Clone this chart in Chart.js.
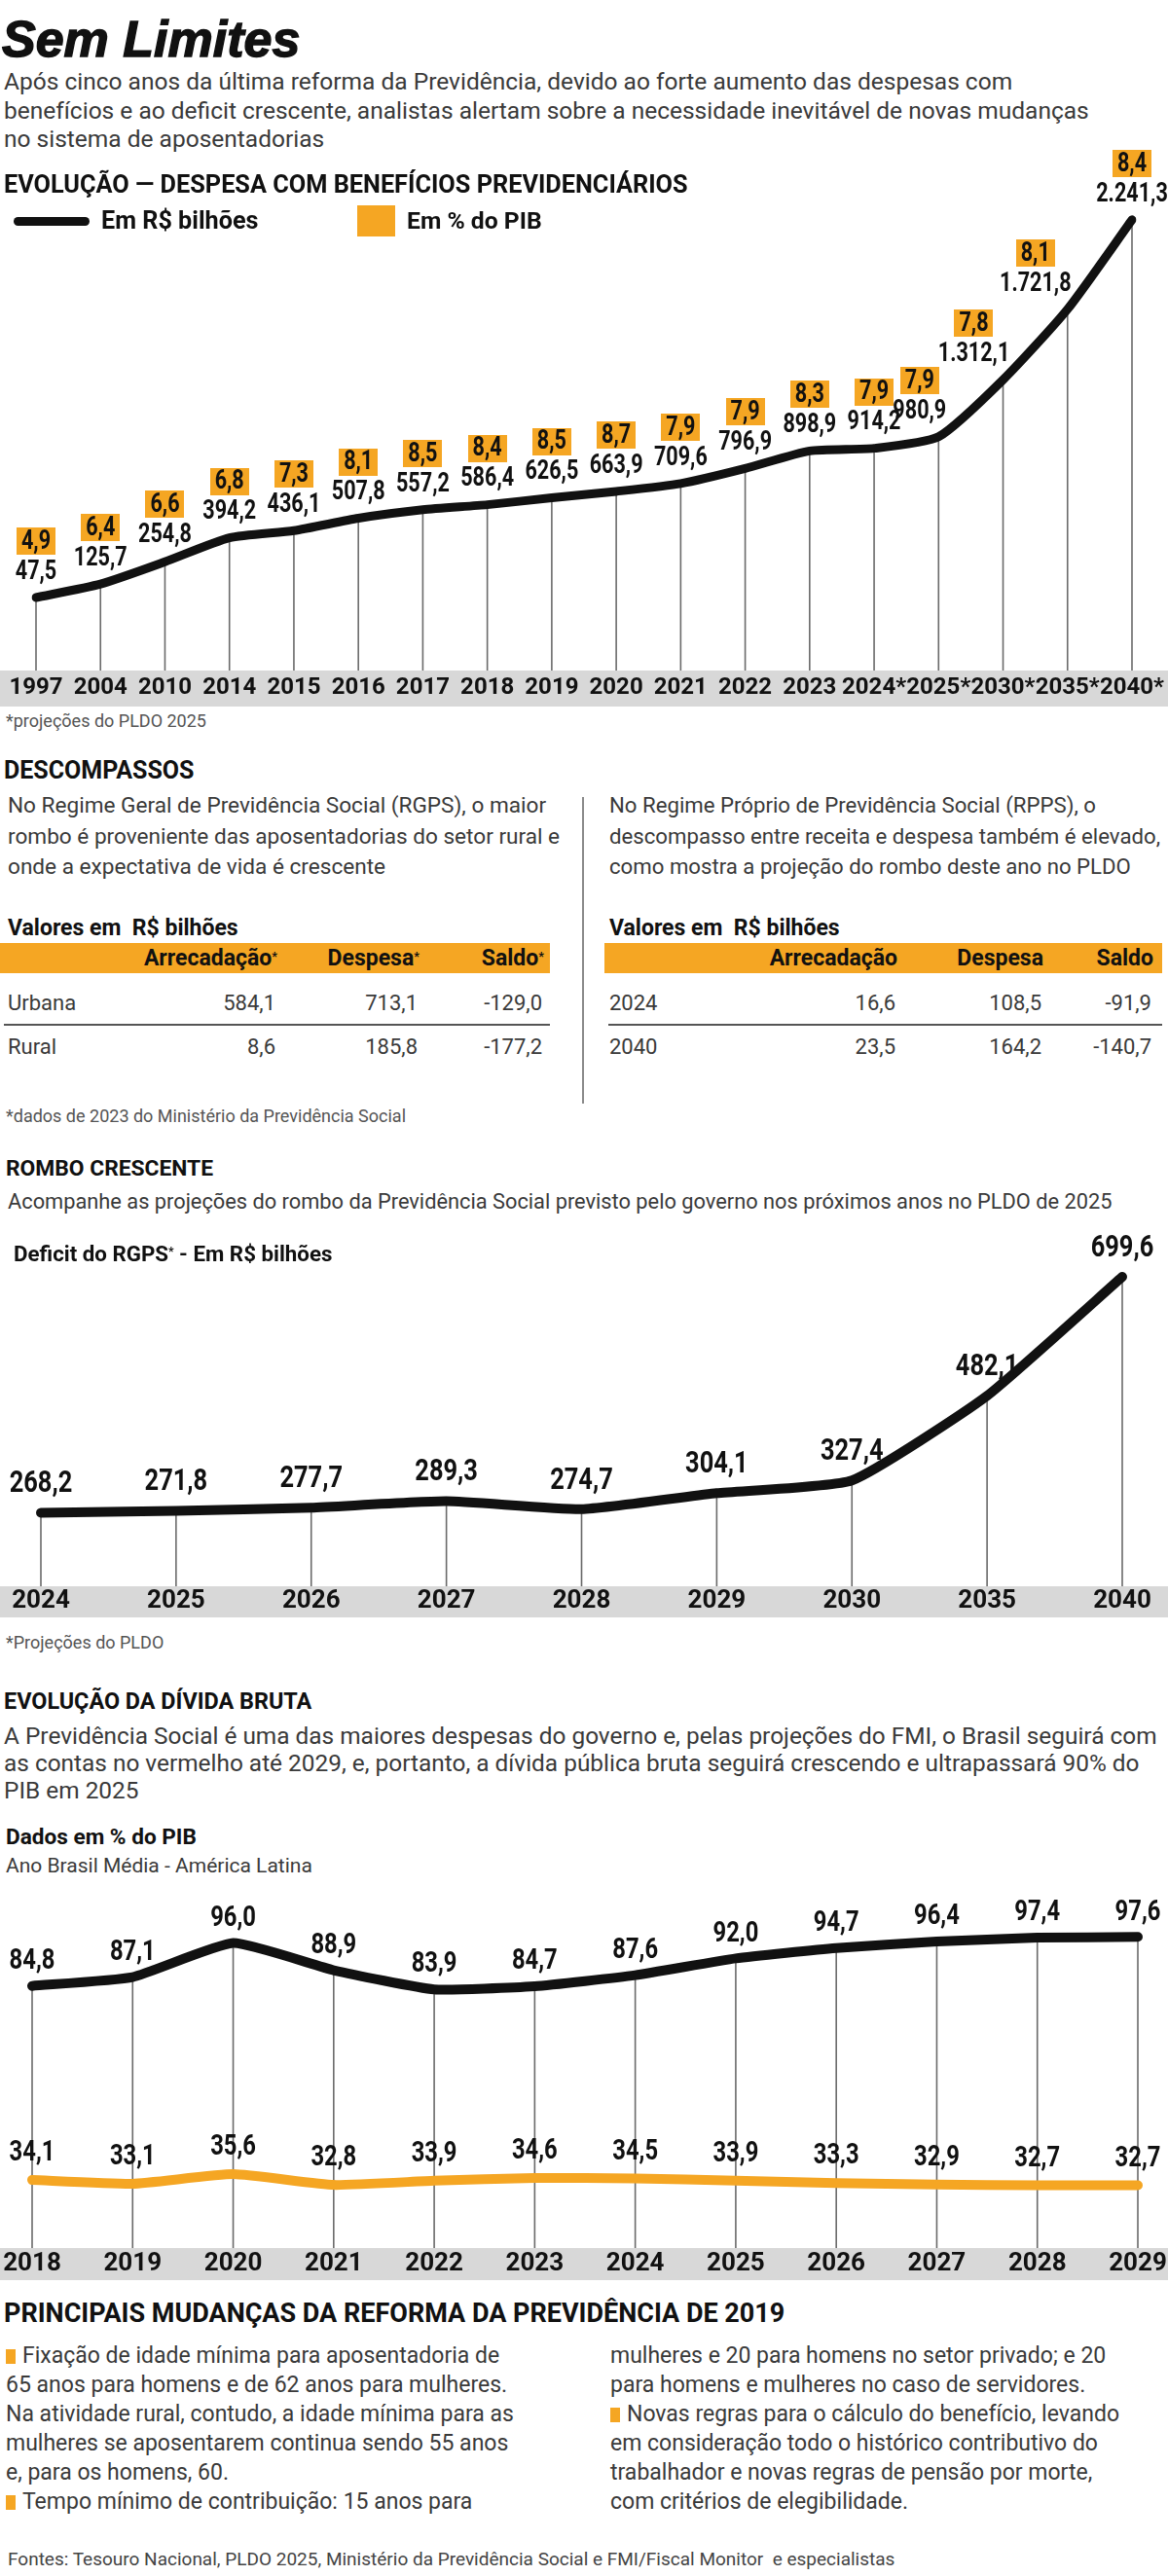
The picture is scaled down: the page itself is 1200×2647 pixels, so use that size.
<!DOCTYPE html>
<html lang="pt-BR"><head><meta charset="utf-8">
<script src="https://cdn.jsdelivr.net/npm/chart.js@4.4.1/dist/chart.umd.min.js"></script>
<style>
html,body{margin:0;padding:0;background:#fff;}
#page{position:relative;width:1200px;height:2647px;overflow:hidden;background:#fff;}
.a{position:absolute;white-space:nowrap;}
.nb{font-family:"Roboto","Liberation Sans",sans-serif;font-weight:700;color:#111;}
.r{font-family:"Roboto","Liberation Sans",sans-serif;color:#3a3a3a;}
.fn{font-family:"Roboto","Liberation Sans",sans-serif;color:#555;font-size:18px;line-height:22px;}
.cw{position:absolute;left:0;width:1200px;}
.bul{display:inline-block;width:10px;height:15px;background:#F5A623;margin-right:7px;vertical-align:-1px;}
sup{font-size:55%;vertical-align:top;position:relative;top:-2px;}
</style></head>
<body><div id="page">

<div class="a" style="left:2px;top:10px;font-family:'Liberation Sans',Arial,sans-serif;font-weight:700;font-style:italic;font-size:52px;line-height:60px;color:#111;-webkit-text-stroke:1.4px #111;">Sem Limites</div>
<div class="a r" style="left:4px;top:69px;font-size:24.5px;line-height:29.5px;">Após cinco anos da última reforma da Previdência, devido ao forte aumento das despesas com<br>benefícios e ao deficit crescente, analistas alertam sobre a necessidade inevitável de novas mudanças<br>no sistema de aposentadorias</div>

<div class="cw" style="top:150px;height:576px;"><canvas id="c1"></canvas></div>
<div class="a nb" style="left:4px;top:176px;font-size:25.3px;line-height:28px;">EVOLUÇÃO — DESPESA COM BENEFÍCIOS PREVIDENCIÁRIOS</div>
<div class="a" style="left:14px;top:223px;width:78px;height:9px;border-radius:5px;background:#111;"></div>
<div class="a nb" style="left:104px;top:213px;font-size:25.2px;line-height:28px;">Em R$ bilhões</div>
<div class="a" style="left:367px;top:211px;width:39px;height:32px;background:#F5A623;"></div>
<div class="a nb" style="left:418px;top:213px;font-size:24.7px;line-height:28px;">Em % do PIB</div>
<div class="a fn" style="left:6px;top:730px;">*projeções do PLDO 2025</div>

<div class="a nb" style="left:4px;top:778px;font-size:25px;line-height:28px;">DESCOMPASSOS</div>
<div class="a r" style="left:8px;top:812px;font-size:22.6px;line-height:31.5px;">No Regime Geral de Previdência Social (RGPS), o maior<br>rombo é proveniente das aposentadorias do setor rural e<br>onde a expectativa de vida é crescente</div>
<div class="a" style="left:598px;top:819px;width:2px;height:315px;background:#8a8a8a;"></div>
<div class="a r" style="left:626px;top:812px;font-size:22.2px;line-height:31.5px;">No Regime Próprio de Previdência Social (RPPS), o<br>descompasso entre receita e despesa também é elevado,<br>como mostra a projeção do rombo deste ano no PLDO</div>
<div id="tables"></div>
<div class="a fn" style="left:6px;top:1136px;">*dados de 2023 do Ministério da Previdência Social</div>

<div class="a nb" style="left:6px;top:1187px;font-size:22.8px;line-height:28px;">ROMBO CRESCENTE</div>
<div class="a r" style="left:8px;top:1220px;font-size:21.8px;line-height:30px;">Acompanhe as projeções do rombo da Previdência Social previsto pelo governo nos próximos anos no PLDO de 2025</div>
<div class="cw" style="top:1240px;height:422px;"><canvas id="c2"></canvas></div>
<div class="a nb" style="left:14px;top:1274px;font-size:22.3px;line-height:28px;">Deficit do RGPS<sup>*</sup> - Em R$ bilhões</div>
<div class="a fn" style="left:6px;top:1677px;">*Projeções do PLDO</div>

<div class="a nb" style="left:4px;top:1734px;font-size:23.4px;line-height:28px;">EVOLUÇÃO DA DÍVIDA BRUTA</div>
<div class="a r" style="left:4px;top:1770px;font-size:24.4px;line-height:28px;">A Previdência Social é uma das maiores despesas do governo e, pelas projeções do FMI, o Brasil seguirá com<br>as contas no vermelho até 2029, e, portanto, a dívida pública bruta seguirá crescendo e ultrapassará 90% do<br>PIB em 2025</div>
<div class="a nb" style="left:6px;top:1874px;font-size:22.6px;line-height:28px;">Dados em % do PIB</div>
<div class="a r" style="left:6px;top:1902px;font-size:21px;line-height:30px;">Ano Brasil Média - América Latina</div>
<div class="cw" style="top:1940px;height:403px;"><canvas id="c3"></canvas></div>

<div class="a nb" style="left:4px;top:2363px;font-size:27px;line-height:28px;">PRINCIPAIS MUDANÇAS DA REFORMA DA PREVIDÊNCIA DE 2019</div>
<div class="a r" style="left:6px;top:2406px;font-size:23px;line-height:30px;"><span class="bul"></span>Fixação de idade mínima para aposentadoria de<br>65 anos para homens e de 62 anos para mulheres.<br>Na atividade rural, contudo, a idade mínima para as<br>mulheres se aposentarem continua sendo 55 anos<br>e, para os homens, 60.<br><span class="bul"></span>Tempo mínimo de contribuição: 15 anos para</div>
<div class="a r" style="left:627px;top:2406px;font-size:23px;line-height:30px;">mulheres e 20 para homens no setor privado; e 20<br>para homens e mulheres no caso de servidores.<br><span class="bul"></span>Novas regras para o cálculo do benefício, levando<br>em consideração todo o histórico contributivo do<br>trabalhador e novas regras de pensão por morte,<br>com critérios de elegibilidade.</div>
<div class="a r" style="left:8px;top:2619px;font-size:19px;line-height:22px;color:#444;">Fontes: Tesouro Nacional, PLDO 2025, Ministério da Previdência Social e FMI/Fiscal Monitor&nbsp; e especialistas</div>
</div>

<script>
// ---------- DATA ----------
const anosDespesa = ['1997','2004','2010','2014','2015','2016','2017','2018','2019','2020','2021','2022','2023','2024*','2025*','2030*','2035*','2040*'];
const despesaBilhoes = [47.5,125.7,254.8,394.2,436.1,507.8,557.2,586.4,626.5,663.9,709.6,796.9,898.9,914.2,980.9,1312.1,1721.8,2241.3];
const despesaPctPib = [4.9,6.4,6.6,6.8,7.3,8.1,8.5,8.4,8.5,8.7,7.9,7.9,8.3,7.9,7.9,7.8,8.1,8.4];

const tabelaColunas = ['Arrecadação','Despesa','Saldo'];
const rgpsLinhas = ['Urbana','Rural'];
const rgpsArrecadacao = [584.1, 8.6];
const rgpsDespesa = [713.1, 185.8];
const rgpsSaldo = [-129.0, -177.2];
const rppsLinhas = ['2024','2040'];
const rppsArrecadacao = [16.6, 23.5];
const rppsDespesa = [108.5, 164.2];
const rppsSaldo = [-91.9, -140.7];

const anosDeficit = ['2024','2025','2026','2027','2028','2029','2030','2035','2040'];
const deficitRgps = [268.2,271.8,277.7,289.3,274.7,304.1,327.4,482.1,699.6];

const anosDivida = ['2018','2019','2020','2021','2022','2023','2024','2025','2026','2027','2028','2029'];
const dividaBrasil = [84.8,87.1,96.0,88.9,83.9,84.7,87.6,92.0,94.7,96.4,97.4,97.6];
const dividaAmericaLatina = [34.1,33.1,35.6,32.8,33.9,34.6,34.5,33.9,33.3,32.9,32.7,32.7];

// ---------- HELPERS ----------
const ORANGE = '#F5A623';
const FONT = '"Roboto","Liberation Sans",sans-serif';
function fmt(v){
  const neg = v < 0; const s = Math.abs(v).toFixed(1).split('.');
  const int = s[0].replace(/\B(?=(\d{3})+(?!\d))/g,'.');
  return (neg?'-':'') + int + ',' + s[1];
}

// ---------- TABLES ----------
(function(){
  const host = document.getElementById('tables');
  let html = '';
  function txt(cls, style, t){ html += `<div class="a ${cls}" style="${style}">${t}</div>`; }
  function table(x0, x1, labelX, rights, rows, star){
    txt('nb', `left:${labelX}px;top:940px;font-size:23px;line-height:28px;`, 'Valores em&nbsp; R$ bilhões');
    html += `<div class="a" style="left:${x0}px;top:969px;width:${x1-x0}px;height:31px;background:${ORANGE};"></div>`;
    tabelaColunas.forEach((c,j)=>{
      txt('nb', `right:${1200-rights[j]}px;top:971px;font-size:23px;line-height:28px;`, c + (star?'<sup>*</sup>':''));
    });
    html += `<div class="a" style="left:${x0+4}px;top:1052px;width:${x1-x0-4}px;height:2px;background:#555;"></div>`;
    rows.forEach((row,i)=>{
      const top = 1017 + i*45;
      txt('r', `left:${labelX}px;top:${top}px;font-size:22px;line-height:28px;`, row.name);
      row.vals.forEach((v,j)=>{
        txt('r', `right:${1200-rights[j]+2}px;top:${top}px;font-size:22px;line-height:28px;`, fmt(v));
      });
    });
  }
  table(0, 565, 8, [285,431,559],
    rgpsLinhas.map((n,i)=>({name:n, vals:[rgpsArrecadacao[i], rgpsDespesa[i], rgpsSaldo[i]]})), true);
  table(621, 1194, 626, [922,1072,1185],
    rppsLinhas.map((n,i)=>({name:n, vals:[rppsArrecadacao[i], rppsDespesa[i], rppsSaldo[i]]})), false);
  host.innerHTML = html;
})();

// ---------- CHART PLUGINS ----------
const bandPlugin = {
  id:'band',
  beforeDraw(chart){
    const {ctx, chartArea, scales} = chart;
    ctx.save(); ctx.fillStyle = '#d8d8d8';
    ctx.fillRect(0, chartArea.bottom, chart.width, scales.x.bottom - chartArea.bottom);
    ctx.restore();
  }
};
const dropPlugin = {
  id:'drops',
  beforeDatasetsDraw(chart, args, opts){
    const {ctx, chartArea} = chart;
    const meta = chart.getDatasetMeta(opts.dataset || 0);
    ctx.save(); ctx.strokeStyle = '#6a6a6a'; ctx.lineWidth = 1.6;
    meta.data.forEach(p=>{
      ctx.beginPath(); ctx.moveTo(p.x, p.y); ctx.lineTo(p.x, chartArea.bottom); ctx.stroke();
    });
    ctx.restore();
  }
};
function hits(rects, segs, m){
  for (const [a,b] of segs){
    for (let t=0;t<=1.0001;t+=0.025){
      const x = a.x + (b.x-a.x)*t, y = a.y + (b.y-a.y)*t;
      for (const r of rects){
        if (x>=r[0]-m && x<=r[2]+m && y>=r[1]-m && y<=r[3]+m) return true;
      }
    }
  }
  return false;
}
function narrowText(ctx, t, x, y, sx){
  ctx.save(); ctx.translate(x, y); ctx.scale(sx, 1); ctx.fillText(t, 0, 0); ctx.restore();
}
const labelPlugin = {
  id:'vlabels',
  afterDatasetsDraw(chart, args, opts){
    const ctx = chart.ctx;
    (opts.sets||[]).forEach(set=>{
      const meta = chart.getDatasetMeta(set.dataset);
      const pts = meta.data;
      const vals = chart.data.datasets[set.dataset].data;
      const sx = set.sx || 1;
      pts.forEach((p,i)=>{
        ctx.save();
        ctx.font = set.font;
        const t = fmt(vals[i]);
        const w = ctx.measureText(t).width * sx;
        let cx = p.x, cy = p.y - set.gap;
        const h = set.h;
        let bt = null, bw = 0;
        if (set.boxes){ bt = fmt(set.boxes[i]); bw = ctx.measureText(bt).width * sx + 10; }
        const rects = ()=>{
          const r = [[cx-w/2, cy-h/2, cx+w/2, cy+h/2]];
          if (bt) r.push([cx-bw/2, cy-set.boxDy-set.boxH/2, cx+bw/2, cy-set.boxDy+set.boxH/2]);
          return r;
        };
        if (set.avoid){
          const segs = [];
          if (i>0) segs.push([pts[i-1], p]);
          if (i<pts.length-1) segs.push([p, pts[i+1]]);
          const slope = i<pts.length-1 ? (pts[i+1].y-p.y)/(pts[i+1].x-p.x) : 0;
          for (let k=0;k<120 && hits(rects(), segs, set.margin);k++){
            if (slope < set.steep) cx -= 1.5; else cy -= 1.5;
          }
        }
        ctx.textAlign = 'center'; ctx.textBaseline = 'middle';
        ctx.fillStyle = set.color || '#111';
        narrowText(ctx, t, cx, cy, sx);
        if (bt){
          const by = cy - set.boxDy;
          ctx.fillStyle = ORANGE;
          ctx.fillRect(Math.round(cx-bw/2), Math.round(by-set.boxH/2), Math.round(bw), set.boxH);
          ctx.fillStyle = '#111';
          narrowText(ctx, bt, cx, by+1, sx);
        }
        ctx.restore();
      });
    });
  }
};

function xAxis(h, size, pad){
  return {
    type:'category', offset:false,
    grid:{display:false, drawTicks:false}, border:{display:false},
    ticks:{font:{family:FONT, size:size, weight:'bold'}, color:'#111', padding:pad, autoSkip:false, maxRotation:0, minRotation:0},
    afterFit(s){ s.height = h; }
  };
}
const common = { responsive:true, maintainAspectRatio:false, animation:false, devicePixelRatio:1, events:[] };

// ---------- CHART 1 ----------
new Chart(document.getElementById('c1'), {
  type:'line',
  data:{ labels: anosDespesa, datasets:[{
    label:'Em R$ bilhões', data: despesaBilhoes, borderColor:'#111', borderWidth:9, pointRadius:0,
    tension:0.2, borderCapStyle:'round', borderJoinStyle:'round', fill:false
  }]},
  options:{ ...common,
    layout:{padding:{left:37, right:37, top:0, bottom:0}},
    scales:{ x:xAxis(37, 24, 4), y:{display:false, min:-376.5, max:2670} },
    plugins:{ legend:{display:false}, tooltip:{enabled:false},
      drops:{dataset:0},
      vlabels:{sets:[{dataset:0, font:`bold 27px ${FONT}`, sx:0.8, gap:26, h:22, margin:4, steep:-0.8, avoid:true,
        boxes: despesaPctPib, boxDy:32, boxH:28}]}
    }
  },
  plugins:[bandPlugin, dropPlugin, labelPlugin]
});

// ---------- CHART 2 ----------
new Chart(document.getElementById('c2'), {
  type:'line',
  data:{ labels: anosDeficit, datasets:[{
    label:'Deficit do RGPS', data: deficitRgps, borderColor:'#111', borderWidth:10, pointRadius:0,
    tension:0.15, borderCapStyle:'round', borderJoinStyle:'round', fill:false
  }]},
  options:{ ...common,
    layout:{padding:{left:42, right:47, top:0, bottom:0}},
    scales:{ x:xAxis(32, 26, 0), y:{display:false, min:133.8, max:827.8} },
    plugins:{ legend:{display:false}, tooltip:{enabled:false},
      drops:{dataset:0},
      vlabels:{sets:[{dataset:0, font:`bold 31px ${FONT}`, sx:0.82, gap:29, h:24, margin:-5, steep:-99, avoid:true}]}
    }
  },
  plugins:[bandPlugin, dropPlugin, labelPlugin]
});

// ---------- CHART 3 ----------
new Chart(document.getElementById('c3'), {
  type:'line',
  data:{ labels: anosDivida, datasets:[
    { label:'Brasil', data: dividaBrasil, borderColor:'#111', borderWidth:10, pointRadius:0,
      tension:0.15, borderCapStyle:'round', borderJoinStyle:'round', fill:false },
    { label:'Média - América Latina', data: dividaAmericaLatina, borderColor:ORANGE, borderWidth:10, pointRadius:0,
      tension:0.15, borderCapStyle:'round', borderJoinStyle:'round', fill:false }
  ]},
  options:{ ...common,
    layout:{padding:{left:33, right:31, top:0, bottom:0}},
    scales:{ x:xAxis(33, 26, 1), y:{display:false, min:16.3, max:110.4} },
    plugins:{ legend:{display:false}, tooltip:{enabled:false},
      drops:{dataset:0},
      vlabels:{sets:[
        {dataset:0, font:`bold 29px ${FONT}`, sx:0.82, gap:25, h:22},
        {dataset:1, font:`bold 29px ${FONT}`, sx:0.82, gap:27, h:22}
      ]}
    }
  },
  plugins:[bandPlugin, dropPlugin, labelPlugin]
});
</script>
</body></html>
